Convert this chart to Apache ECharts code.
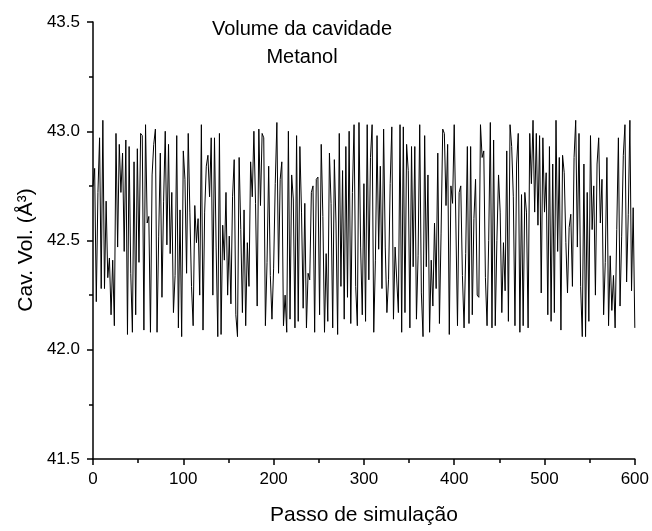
<!DOCTYPE html>
<html><head><meta charset="utf-8">
<script src="https://cdn.jsdelivr.net/npm/echarts@6/dist/echarts.min.js"></script>
<style>html,body{margin:0;padding:0;background:#fff}#c{width:652px;height:531px}</style>
</head><body><div id="c"></div>
<script>
const titleLines = ['Volume da cavidade', 'Metanol'];
const xName = 'Passo de simulação';
const yName = 'Cav. Vol. (Å³)';
const xMin = 0, xMax = 600, xInterval = 100;
const yMin = 41.5, yMax = 43.5, yInterval = 0.5;
const volumes = [
42.75,42.83,42.22,42.72,42.97,42.28,43.05,42.28,42.68,42.33,42.42,42.16,42.41,42.11,42.99,42.47,42.94,42.72,42.90,42.45,
42.96,42.07,42.93,42.35,42.08,42.86,42.16,42.92,42.40,42.99,42.98,42.09,43.03,42.58,42.61,42.08,42.80,42.94,
43.01,42.08,42.52,42.90,42.24,42.68,43.00,42.48,42.94,42.44,42.72,42.17,42.34,42.98,42.10,42.64,42.06,42.91,42.78,42.35,
42.99,42.63,42.29,42.11,42.66,42.49,42.60,42.25,43.03,42.09,42.63,42.84,42.89,42.70,42.97,42.25,42.97,42.47,42.06,
42.99,42.07,42.57,42.41,42.72,42.25,42.52,42.21,42.70,42.87,42.16,42.06,42.88,42.55,42.17,42.64,42.11,42.49,42.29,42.86,
42.70,43.00,42.67,42.20,43.01,42.66,42.99,42.97,42.11,42.40,42.84,42.34,42.14,42.37,42.76,43.04,
42.35,42.78,42.86,42.11,42.25,42.08,43.00,42.14,42.80,42.69,42.10,42.98,42.13,42.93,42.63,42.19,42.67,42.10,42.35,42.32,
42.72,42.75,42.08,42.78,42.79,42.16,42.94,42.61,42.08,42.44,42.13,42.90,42.67,42.10,42.87,42.58,
42.07,42.99,42.29,42.82,42.14,42.93,42.24,43.00,42.12,42.72,43.03,42.29,42.11,43.04,42.47,42.16,42.76,42.13,43.03,42.32,
42.88,43.03,42.08,42.41,42.98,42.46,42.84,42.28,43.01,42.47,42.17,42.32,42.76,43.02,42.14,42.47,
42.47,42.17,43.03,42.08,43.02,42.17,42.94,42.82,42.10,42.93,42.38,42.93,42.14,42.43,43.03,42.26,42.06,42.98,42.38,42.80,
42.08,42.41,42.20,42.58,42.28,42.90,42.12,42.53,43.01,42.99,42.66,42.94,42.07,42.75,42.67,43.03,42.58,42.11,42.72,42.75,
42.34,42.10,42.44,42.93,
42.12,42.93,42.16,42.60,42.78,42.25,42.24,43.03,42.88,42.91,42.33,42.11,42.50,43.04,42.10,42.96,42.11,42.50,42.80,42.63,
42.17,42.49,42.27,42.91,42.13,43.03,42.93,42.70,42.11,42.85,42.99,42.08,42.71,42.11,42.72,42.63,42.10,42.99,42.76,43.05,
42.63,42.99,42.57,
42.98,42.26,42.97,42.63,42.81,42.16,42.93,42.13,42.85,42.17,43.05,42.45,42.88,42.09,42.89,42.81,42.49,42.26,42.56,42.62,
42.29,42.88,43.05,42.47,42.99,42.29,42.06,42.85,42.06,42.72,42.13,42.98,42.55,42.75,42.25,42.85,42.97,42.58,42.78,42.16,
42.40,42.88,42.11,42.43,
42.18,42.34,42.10,42.55,42.97,42.20,42.52,42.89,43.03,42.31,42.62,43.05,42.27,42.65,42.10
];
const stepSize = (xMax - xMin) / (volumes.length - 1);
const seriesData = volumes.map((v, i) => [xMin + i * stepSize, v]);

const chart = echarts.init(document.getElementById('c'), null, {renderer: 'canvas'});
const font = 'Liberation Sans, Arial, sans-serif';
const titleText = titleLines.map((t, i) => ({
  type: 'text', x: 302, y: 29 + i * 28,
  style: {text: t, fontFamily: font, fontSize: 20, fill: '#000', align: 'center', verticalAlign: 'middle'}
}));
chart.setOption({
  animation: false,
  backgroundColor: '#fff',
  graphic: titleText.concat([{
    type: 'text', x: 26, y: 250, rotation: Math.PI / 2,
    style: {text: yName, fontFamily: font, fontSize: 21, fill: '#000', align: 'center', verticalAlign: 'middle'}
  }]),
  grid: {left: 93, right: 15, top: 22, bottom: 68, containLabel: false},
  xAxis: {
    type: 'value', min: xMin, max: xMax, interval: xInterval,
    name: xName, nameLocation: 'middle', nameGap: 46,
    nameTextStyle: {fontFamily: font, fontSize: 21, color: '#000'},
    axisLine: {show: true, lineStyle: {color: '#000', width: 1.5}},
    axisTick: {show: true, length: 6, lineStyle: {color: '#000', width: 1.5}},
    minorTick: {show: true, splitNumber: 2, length: 4, lineStyle: {color: '#000', width: 1.5}},
    axisLabel: {fontFamily: font, fontSize: 17, color: '#000', margin: 12},
    splitLine: {show: false}
  },
  yAxis: {
    type: 'value', min: yMin, max: yMax, interval: yInterval,
    axisLine: {show: true, lineStyle: {color: '#000', width: 1.5}},
    axisTick: {show: true, length: 6, lineStyle: {color: '#000', width: 1.5}},
    minorTick: {show: true, splitNumber: 2, length: 4, lineStyle: {color: '#000', width: 1.5}},
    axisLabel: {fontFamily: font, fontSize: 17, color: '#000', margin: 13, formatter: v => v.toFixed(1)},
    splitLine: {show: false}
  },
  series: [{
    type: 'line', data: seriesData, showSymbol: false, symbol: 'none',
    lineStyle: {color: '#000', width: 1}, silent: true
  }]
});
</script></body></html>
